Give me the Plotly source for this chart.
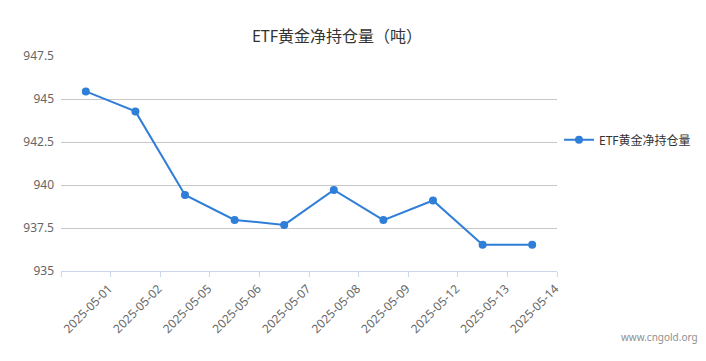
import plotly.graph_objects as go

dates = ["2025-05-01", "2025-05-02", "2025-05-05", "2025-05-06", "2025-05-07",
         "2025-05-08", "2025-05-09", "2025-05-12", "2025-05-13", "2025-05-14"]
holdings = [945.44, 944.28, 939.42, 937.97, 937.68, 939.71, 937.96, 939.10, 936.53, 936.53]
y_ticks = [935, 937.5, 940, 942.5, 945, 947.5]
y_tick_text = ["935", "937.5", "940", "942.5", "945", "947.5"]
series_name = "ETF黄金净持仓量"
title_text = "ETF黄金净持仓量（吨）"

FONT = "Noto Sans, Noto Sans CJK SC, sans-serif"
BLUE = "#2f7ed8"

fig = go.Figure()
fig.add_trace(go.Scatter(
    x=dates, y=holdings, name=series_name, mode="lines+markers",
    line=dict(color=BLUE, width=2),
    marker=dict(color=BLUE, size=8),
    showlegend=True,
))

fig.update_layout(
    width=706, height=361,
    margin=dict(l=61, r=149, t=56, b=90, autoexpand=False),
    paper_bgcolor="white", plot_bgcolor="white",
    font=dict(family=FONT, color="#666666", size=12),
    title=dict(text=title_text, x=337 / 706, xanchor="center",
               xref="container", yref="container", y=1 - 36 / 361, yanchor="middle",
               font=dict(family=FONT, size=16, color="#333333")),
    legend=dict(x=1.004, xanchor="left", y=0.61, yanchor="middle",
                font=dict(family=FONT, size=12, color="#333333"),
                bgcolor="rgba(0,0,0,0)", itemwidth=30),
    xaxis=dict(
        type="category", categoryorder="array", categoryarray=dates,
        range=[-0.5, len(dates) - 0.5],
        tickson="boundaries", ticks="outside", ticklen=5, tickcolor="#ccd6eb",
        showline=True, linecolor="#ccd6eb", linewidth=1,
        showgrid=False, zeroline=False, automargin=False,
        tickangle=-45, ticklabelshift=23, ticklabelstandoff=5,
        tickfont=dict(family=FONT, size=12, color="#666666"),
    ),
    yaxis=dict(
        range=[935, 947.5], tickvals=y_ticks, ticktext=y_tick_text,
        showgrid=True, gridcolor="#c8c8c8", gridwidth=1,
        showline=False, zeroline=False, ticks="", automargin=False,
        ticklabelstandoff=6,
        tickfont=dict(family=FONT, size=12, color="#666666"),
    ),
    annotations=[dict(text="www.cngold.org", xref="paper", yref="paper",
                      x=(700 - 61) / 496, y=-(337 - 271) / 215,
                      xanchor="right", yanchor="middle", showarrow=False,
                      font=dict(family=FONT, size=10, color="#909090"))],
)

fig.write_html("out.html", config={"displayModeBar": False},
               post_script="document.body.style.margin='0px';")
